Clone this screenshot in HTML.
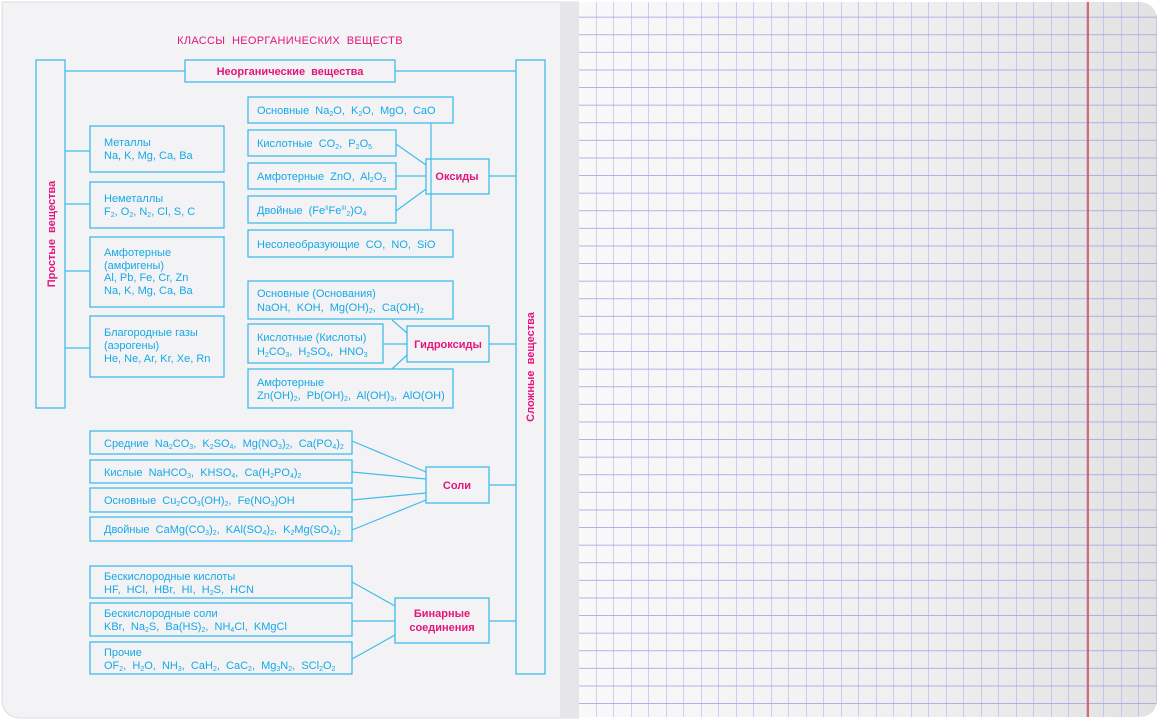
<!DOCTYPE html>
<html><head><meta charset="utf-8"><style>
html,body{margin:0;padding:0;background:#fff;}
svg{display:block}
text{font-family:"Liberation Sans",Arial,sans-serif;white-space:pre}
.t{font-size:11px;fill:#15a9e6}
.m{font-size:11px;fill:#e4157c;font-weight:bold}
.b{fill:none;stroke:#41bcea;stroke-width:1.3}
.l{stroke:#41bcea;stroke-width:1.2;fill:none}
</style></head><body>
<svg width="1163" height="720" viewBox="0 0 1163 720" xmlns="http://www.w3.org/2000/svg">
<defs>
<linearGradient id="rg" x1="0" x2="1" y1="0" y2="0">
<stop offset="0" stop-color="#f9f9f9"/><stop offset="0.6" stop-color="#efefef"/><stop offset="1" stop-color="#e2e2e2"/>
</linearGradient>
<pattern id="grid" x="579" y="0" width="17.5" height="17.6" patternUnits="userSpaceOnUse">
<path d="M17.5 0V17.6M0 17.3H17.5" stroke="#a3a8ea" stroke-width="1" fill="none"/>
</pattern>
</defs>
<rect width="1163" height="720" fill="#fff"/>
<path d="M2 2H578V718H22Q2 718 2 698Z" fill="#f3f3f5" stroke="#dcdcdc" stroke-width="1"/>
<rect x="560" y="2" width="19" height="716" fill="#e6e6e8"/>
<path d="M579 2H1138Q1157 2 1157 22V698Q1157 717 1138 717H579Z" fill="url(#rg)"/>
<path d="M579 2H1138Q1157 2 1157 22V698Q1157 717 1138 717H579Z" fill="url(#grid)"/>
<line x1="1088" y1="2" x2="1088" y2="717" stroke="#d8362c" stroke-width="1.4"/>

<text x="290" y="44" text-anchor="middle" style="font-size:11px;fill:#e4157c;letter-spacing:0.3px">КЛАССЫ  НЕОРГАНИЧЕСКИХ  ВЕЩЕСТВ</text>

<rect class="b" x="36" y="60" width="29" height="348"/>
<rect class="b" x="516" y="60" width="29" height="614"/>
<rect class="b" x="185" y="60" width="210" height="22"/>
<text class="m" x="290" y="75" text-anchor="middle">Неорганические  вещества</text>
<line class="l" x1="65" y1="71" x2="185" y2="71"/>
<line class="l" x1="395" y1="71" x2="516" y2="71"/>
<text class="m" transform="translate(55,234) rotate(-90)" text-anchor="middle">Простые  вещества</text>
<text class="m" transform="translate(534,367) rotate(-90)" text-anchor="middle">Сложные  вещества</text>

<line class="l" x1="65" y1="151" x2="90" y2="151"/>
<line class="l" x1="65" y1="204" x2="90" y2="204"/>
<line class="l" x1="65" y1="271" x2="90" y2="271"/>
<line class="l" x1="65" y1="348" x2="90" y2="348"/>
<rect class="b" x="90" y="126" width="134" height="46"/>
<text class="t" x="104" y="146">Металлы</text>
<text class="t" x="104" y="159">Na, K, Mg, Ca, Ba</text>
<rect class="b" x="90" y="182" width="134" height="46"/>
<text class="t" x="104" y="202">Неметаллы</text>
<text class="t" x="104" y="215">F<tspan font-size="7" baseline-shift="-2">2</tspan>, O<tspan font-size="7" baseline-shift="-2">2</tspan>, N<tspan font-size="7" baseline-shift="-2">2</tspan>, Cl, S, C</text>
<rect class="b" x="90" y="237" width="134" height="70"/>
<text class="t" x="104" y="256">Амфотерные</text>
<text class="t" x="104" y="269">(амфигены)</text>
<text class="t" x="104" y="281">Al, Pb, Fe, Cr, Zn</text>
<text class="t" x="104" y="294">Na, K, Mg, Ca, Ba</text>
<rect class="b" x="90" y="316" width="134" height="61"/>
<text class="t" x="104" y="336">Благородные газы</text>
<text class="t" x="104" y="349">(аэрогены)</text>
<text class="t" x="104" y="362">He, Ne, Ar, Kr, Xe, Rn</text>

<line class="l" x1="431" y1="123" x2="431" y2="230"/>
<line class="l" x1="396" y1="144" x2="426" y2="165"/>
<line class="l" x1="396" y1="176" x2="426" y2="176"/>
<line class="l" x1="396" y1="211" x2="426" y2="189"/>
<line class="l" x1="489" y1="176" x2="516" y2="176"/>
<rect class="b" x="248" y="97" width="205" height="26" fill="#f3f3f5"/>
<text class="t" x="257" y="114">Основные  Na<tspan font-size="7" baseline-shift="-2">2</tspan>O,  K<tspan font-size="7" baseline-shift="-2">2</tspan>O,  MgO,  CaO</text>
<rect class="b" x="248" y="130" width="148" height="26"/>
<text class="t" x="257" y="147">Кислотные  CO<tspan font-size="7" baseline-shift="-2">2</tspan>,  P<tspan font-size="7" baseline-shift="-2">2</tspan>O<tspan font-size="7" baseline-shift="-2">5</tspan></text>
<rect class="b" x="248" y="163" width="148" height="26"/>
<text class="t" x="257" y="180">Амфотерные  ZnO,  Al<tspan font-size="7" baseline-shift="-2">2</tspan>O<tspan font-size="7" baseline-shift="-2">3</tspan></text>
<rect class="b" x="248" y="196" width="148" height="27"/>
<text class="t" x="257" y="214">Двойные  (Fe<tspan font-size="6" baseline-shift="4">II</tspan>Fe<tspan font-size="6" baseline-shift="4">III</tspan><tspan font-size="7" baseline-shift="-2">2</tspan>)O<tspan font-size="7" baseline-shift="-2">4</tspan></text>
<rect class="b" x="248" y="230" width="205" height="27" fill="#f3f3f5"/>
<text class="t" x="257" y="248">Несолеобразующие  CO,  NO,  SiO</text>
<rect class="b" x="426" y="159" width="63" height="35" fill="#f3f3f5"/>
<text class="m" x="457" y="180" text-anchor="middle">Оксиды</text>

<line class="l" x1="392" y1="320" x2="407" y2="333"/>
<line class="l" x1="383" y1="344" x2="407" y2="344"/>
<line class="l" x1="392" y1="369" x2="407" y2="355"/>
<line class="l" x1="489" y1="344" x2="516" y2="344"/>
<rect class="b" x="248" y="281" width="205" height="38"/>
<text class="t" x="257" y="297">Основные (Основания)</text>
<text class="t" x="257" y="311">NaOH,  KOH,  Mg(OH)<tspan font-size="7" baseline-shift="-2">2</tspan>,  Ca(OH)<tspan font-size="7" baseline-shift="-2">2</tspan></text>
<rect class="b" x="248" y="324" width="135" height="39"/>
<text class="t" x="257" y="341">Кислотные (Кислоты)</text>
<text class="t" x="257" y="355">H<tspan font-size="7" baseline-shift="-2">2</tspan>CO<tspan font-size="7" baseline-shift="-2">3</tspan>,  H<tspan font-size="7" baseline-shift="-2">2</tspan>SO<tspan font-size="7" baseline-shift="-2">4</tspan>,  HNO<tspan font-size="7" baseline-shift="-2">3</tspan></text>
<rect class="b" x="248" y="369" width="205" height="39"/>
<text class="t" x="257" y="386">Амфотерные</text>
<text class="t" x="257" y="399">Zn(OH)<tspan font-size="7" baseline-shift="-2">2</tspan>,  Pb(OH)<tspan font-size="7" baseline-shift="-2">2</tspan>,  Al(OH)<tspan font-size="7" baseline-shift="-2">3</tspan>,  AlO(OH)</text>
<rect class="b" x="407" y="326" width="82" height="36" fill="#f3f3f5"/>
<text class="m" x="448" y="348" text-anchor="middle">Гидроксиды</text>

<line class="l" x1="352" y1="441" x2="426" y2="472"/>
<line class="l" x1="352" y1="472" x2="426" y2="479"/>
<line class="l" x1="352" y1="500" x2="426" y2="493"/>
<line class="l" x1="352" y1="530" x2="426" y2="500"/>
<line class="l" x1="489" y1="485" x2="516" y2="485"/>
<rect class="b" x="90" y="431" width="262" height="23"/>
<text class="t" x="104" y="447">Средние  Na<tspan font-size="7" baseline-shift="-2">2</tspan>CO<tspan font-size="7" baseline-shift="-2">3</tspan>,  K<tspan font-size="7" baseline-shift="-2">2</tspan>SO<tspan font-size="7" baseline-shift="-2">4</tspan>,  Mg(NO<tspan font-size="7" baseline-shift="-2">3</tspan>)<tspan font-size="7" baseline-shift="-2">2</tspan>,  Ca(PO<tspan font-size="7" baseline-shift="-2">4</tspan>)<tspan font-size="7" baseline-shift="-2">2</tspan></text>
<rect class="b" x="90" y="460" width="262" height="23"/>
<text class="t" x="104" y="476">Кислые  NaHCO<tspan font-size="7" baseline-shift="-2">3</tspan>,  KHSO<tspan font-size="7" baseline-shift="-2">4</tspan>,  Ca(H<tspan font-size="7" baseline-shift="-2">2</tspan>PO<tspan font-size="7" baseline-shift="-2">4</tspan>)<tspan font-size="7" baseline-shift="-2">2</tspan></text>
<rect class="b" x="90" y="488" width="262" height="24"/>
<text class="t" x="104" y="504">Основные  Cu<tspan font-size="7" baseline-shift="-2">2</tspan>CO<tspan font-size="7" baseline-shift="-2">3</tspan>(OH)<tspan font-size="7" baseline-shift="-2">2</tspan>,  Fe(NO<tspan font-size="7" baseline-shift="-2">3</tspan>)OH</text>
<rect class="b" x="90" y="517" width="262" height="24"/>
<text class="t" x="104" y="533">Двойные  CaMg(CO<tspan font-size="7" baseline-shift="-2">3</tspan>)<tspan font-size="7" baseline-shift="-2">2</tspan>,  KAl(SO<tspan font-size="7" baseline-shift="-2">4</tspan>)<tspan font-size="7" baseline-shift="-2">2</tspan>,  K<tspan font-size="7" baseline-shift="-2">2</tspan>Mg(SO<tspan font-size="7" baseline-shift="-2">4</tspan>)<tspan font-size="7" baseline-shift="-2">2</tspan></text>
<rect class="b" x="426" y="467" width="63" height="36" fill="#f3f3f5"/>
<text class="m" x="457" y="489" text-anchor="middle">Соли</text>

<line class="l" x1="352" y1="582" x2="395" y2="606"/>
<line class="l" x1="352" y1="621" x2="395" y2="621"/>
<line class="l" x1="352" y1="659" x2="395" y2="635"/>
<line class="l" x1="489" y1="621" x2="516" y2="621"/>
<rect class="b" x="90" y="566" width="262" height="32"/>
<text class="t" x="104" y="580">Бескислородные кислоты</text>
<text class="t" x="104" y="593">HF,  HCl,  HBr,  HI,  H<tspan font-size="7" baseline-shift="-2">2</tspan>S,  HCN</text>
<rect class="b" x="90" y="603" width="262" height="33"/>
<text class="t" x="104" y="617">Бескислородные соли</text>
<text class="t" x="104" y="630">KBr,  Na<tspan font-size="7" baseline-shift="-2">2</tspan>S,  Ba(HS)<tspan font-size="7" baseline-shift="-2">2</tspan>,  NH<tspan font-size="7" baseline-shift="-2">4</tspan>Cl,  KMgCl</text>
<rect class="b" x="90" y="642" width="262" height="32"/>
<text class="t" x="104" y="656">Прочие</text>
<text class="t" x="104" y="669">OF<tspan font-size="7" baseline-shift="-2">2</tspan>,  H<tspan font-size="7" baseline-shift="-2">2</tspan>O,  NH<tspan font-size="7" baseline-shift="-2">3</tspan>,  CaH<tspan font-size="7" baseline-shift="-2">2</tspan>,  CaC<tspan font-size="7" baseline-shift="-2">2</tspan>,  Mg<tspan font-size="7" baseline-shift="-2">3</tspan>N<tspan font-size="7" baseline-shift="-2">2</tspan>,  SCl<tspan font-size="7" baseline-shift="-2">2</tspan>O<tspan font-size="7" baseline-shift="-2">2</tspan></text>
<rect class="b" x="395" y="598" width="94" height="45" fill="#f3f3f5"/>
<text class="m" x="442" y="617" text-anchor="middle">Бинарные</text>
<text class="m" x="442" y="631" text-anchor="middle">соединения</text>
</svg>
</body></html>
